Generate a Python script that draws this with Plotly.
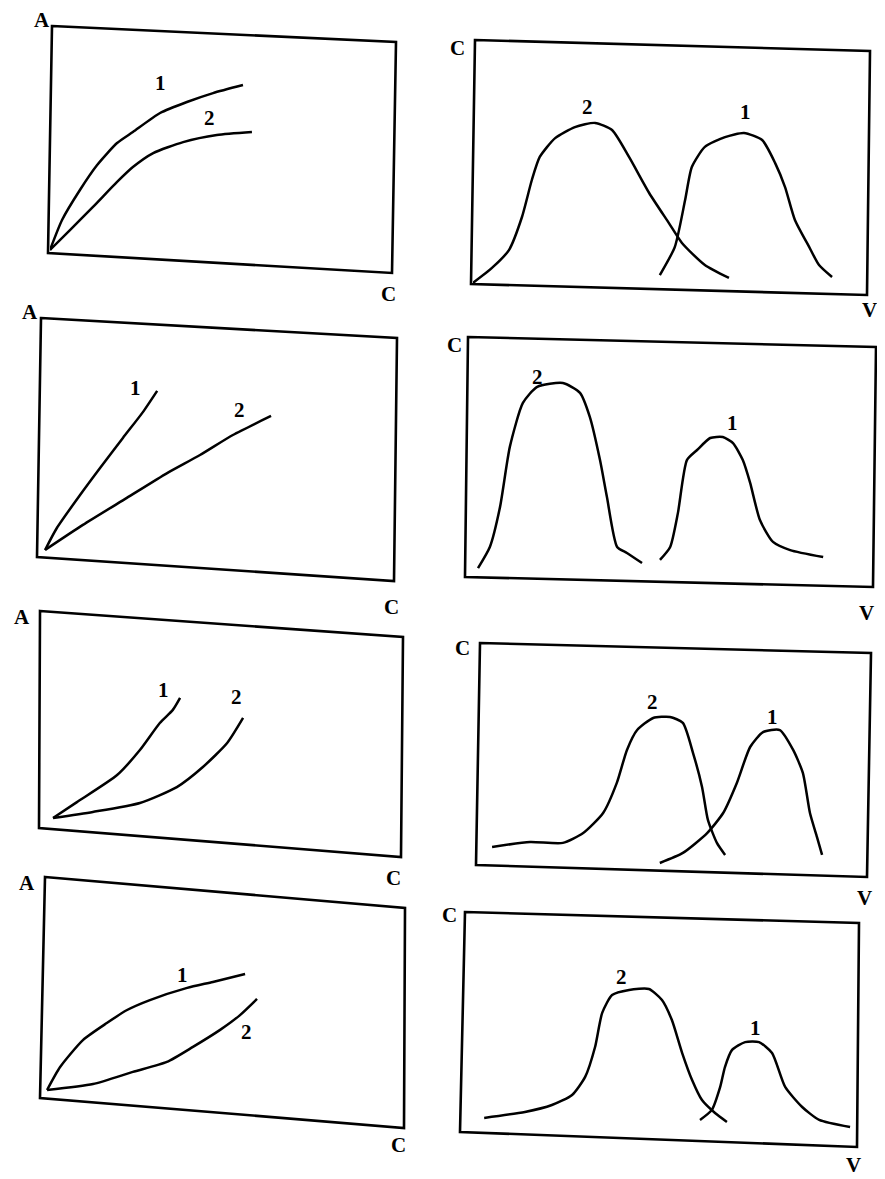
import plotly.graph_objects as go

# Four pairs of panels: left = isotherms A(C), right = elution profiles C(V)

# row 1
p1_x1 = [0, 3.5, 8.7, 13.7, 19.5, 24.1, 32.0, 39.8, 47.4, 56.1]
p1_y1 = [5.7, 18.8, 31.9, 42.8, 52.4, 57.2, 65.5, 70.3, 74.2, 77.7]
p1_x2 = [0, 5.8, 12.5, 19.5, 24.1, 30.0, 38.7, 48.5, 58.7]
p1_y2 = [5.7, 14.4, 24.5, 35.4, 41.9, 48.0, 52.8, 55.9, 57.2]

p2_x1 = [47.3, 51.1, 53.7, 55.4, 58.7, 63.8, 68.6, 73.2, 76.5, 79.0, 81.5, 85.1, 87.6, 90.9]
p2_y1 = [6.1, 17.6, 36.7, 50.2, 58.4, 62.4, 64.1, 61.2, 51.8, 42.0, 28.6, 17.6, 10.2, 5.3]
p2_x2 = [0, 4.8, 9.1, 12.4, 14.9, 16.9, 20.8, 25.8, 30.9, 35.2, 39.5, 44.6, 49.6, 52.9, 58.7, 64.8]
p2_y2 = [2.9, 9.0, 16.3, 29.8, 44.9, 54.3, 62.0, 66.5, 68.2, 65.3, 54.3, 39.6, 27.3, 19.2, 10.2, 4.9]

# row 2
p3_x1 = [1.7, 5.0, 11.5, 17.1, 23.5, 29.1, 33.1]
p3_y1 = [7.9, 17.0, 30.7, 41.9, 54.4, 65.1, 73.9]
p3_x2 = [1.7, 12.3, 24.6, 35.9, 45.1, 54.3, 65.0]
p3_y2 = [7.9, 18.3, 29.5, 39.8, 47.3, 55.6, 63.5]

p4_x1 = [47.3, 49.8, 51.7, 53.9, 56.4, 59.6, 62.7, 65.2, 67.6, 69.4, 71.8, 75.0, 79.2, 87.3]
p4_y1 = [9.2, 14.6, 28.8, 50.8, 55.0, 60.0, 60.4, 57.9, 50.8, 41.3, 25.8, 16.7, 13.3, 10.4]
p4_x2 = [2.7, 5.6, 8.1, 10.5, 13.7, 17.2, 23.5, 27.7, 30.1, 32.6, 34.3, 36.8, 39.2, 42.9]
p4_y2 = [5.8, 14.6, 31.3, 56.3, 74.6, 81.3, 82.9, 78.8, 68.8, 50.8, 35.4, 14.6, 12.1, 7.9]

# row 3
p5_x1 = [3.6, 10.2, 21.3, 27.6, 33.1, 36.7, 38.7]
p5_y1 = [11.0, 18.3, 30.7, 42.2, 54.6, 60.6, 66.1]
p5_x2 = [3.6, 14.6, 27.6, 37.8, 45.0, 51.7, 56.1]
p5_y2 = [11.0, 13.8, 17.9, 25.2, 34.4, 45.4, 56.9]

p6_x1 = [46.5, 52.4, 58.6, 62.7, 66.2, 69.6, 72.9, 77.2, 80.6, 83.1, 84.9, 86.7, 88.0]
p6_y1 = [3.6, 8.1, 17.0, 26.0, 39.5, 55.6, 62.3, 63.2, 54.3, 43.9, 26.0, 15.2, 7.2]
p6_x2 = [3.6, 13.3, 21.7, 26.9, 32.0, 35.5, 38.1, 40.7, 44.8, 49.1, 52.4, 55.0, 57.3, 58.8, 61.1, 63.2]
p6_y2 = [10.8, 13.0, 12.6, 17.0, 26.0, 39.5, 54.3, 63.2, 68.6, 69.1, 66.4, 52.9, 37.7, 22.9, 12.6, 7.2]

# row 4
p7_x1 = [1.4, 5.0, 11.3, 17.9, 23.5, 29.8, 40.1, 47.2, 56.1]
p7_y1 = [10.4, 20.8, 33.0, 40.7, 46.6, 51.1, 56.6, 59.3, 62.9]
p7_x2 = [1.4, 14.1, 25.1, 34.5, 41.7, 49.2, 54.7, 59.4]
p7_y2 = [10.4, 13.1, 18.6, 23.1, 29.9, 37.6, 44.3, 51.6]

p8_x1 = [60.1, 63.1, 65.2, 66.4, 68.2, 71.5, 75.0, 78.3, 81.6, 85.9, 90.2, 98.0]
p8_y1 = [9.0, 13.5, 23.8, 32.7, 40.4, 43.9, 43.9, 39.0, 23.8, 14.8, 9.0, 5.8]
p8_x2 = [5.6, 15.9, 22.7, 27.8, 31.1, 33.6, 35.4, 37.9, 42.2, 47.2, 50.5, 53.0, 55.6, 58.1, 60.6, 63.9, 66.9]
p8_y2 = [9.9, 12.6, 15.7, 20.2, 28.3, 41.7, 57.0, 65.0, 67.3, 67.7, 62.8, 53.8, 39.0, 26.9, 17.9, 12.1, 8.1]

# curve number labels (x, y) for "1" and "2"
lab1 = [(32, 78.6), (69.1, 72.7), (26.9, 75.1), (65, 66.3), (34, 69.7), (75.4, 69.1), (38.7, 62.4), (74, 50.2)]
lab2 = [(46.5, 63.3), (28.9, 74.7), (56.3, 66.0), (17.4, 85.5), (54.4, 66.5), (44.5, 75.8), (56.6, 36.7), (40.4, 73.1)]

curves = [
    (p1_x1, p1_y1, p1_x2, p1_y2), (p2_x1, p2_y1, p2_x2, p2_y2),
    (p3_x1, p3_y1, p3_x2, p3_y2), (p4_x1, p4_y1, p4_x2, p4_y2),
    (p5_x1, p5_y1, p5_x2, p5_y2), (p6_x1, p6_y1, p6_x2, p6_y2),
    (p7_x1, p7_y1, p7_x2, p7_y2), (p8_x1, p8_y1, p8_x2, p8_y2),
]

# --- layout (page pixels) ---
OFF = 8                  # browser body margin
W, H = 877, 1171

# frame corners (the scanned boxes are slightly tilted): TL, TR, BR, BL
corners = [
    [(52, 26), (396, 42), (392, 273), (48, 253)],
    [(475, 40), (870, 51), (867, 295), (471, 284)],
    [(41, 318), (397, 338), (394, 581), (37, 557)],
    [(468, 337), (876, 347), (873, 587), (465, 577)],
    [(40, 611), (403, 637), (401, 857), (39, 828)],
    [(480, 643), (871, 653), (867, 877), (476, 865)],
    [(45, 877), (405, 908), (404, 1128), (40, 1098)],
    [(465, 912), (859, 923), (857, 1147), (460, 1132)],
]
# plotting rectangle used for the data (l, r, t, b)
frames = [
    (50, 394, 34, 263), (473, 868, 45, 290),
    (39, 396, 328, 569), (467, 875, 342, 582),
    (40, 402, 624, 842), (478, 869, 648, 871),
    (42, 404, 892, 1113), (462, 858, 917, 1140),
]
# axis letters: (text, x, y) centres
ax_labels = [
    [("A", 42, 20), ("C", 388, 294)],
    [("C", 457, 48), ("V", 869, 310)],
    [("A", 30, 312), ("C", 391, 607)],
    [("C", 455, 345), ("V", 866, 613)],
    [("A", 22, 617), ("C", 393, 878)],
    [("C", 462, 648), ("V", 864, 898)],
    [("A", 27, 883), ("C", 398, 1145)],
    [("C", 450, 915), ("V", 853, 1165)],
]


def px(x):
    return (x - OFF) / W


def py(y):
    return 1 - (y - OFF) / H


FONT = "Liberation Serif"
fig = go.Figure()
line = dict(color="black", width=2.5, shape="spline", smoothing=0.6)

for i, (xa, ya, xb, yb) in enumerate(curves):
    n = "" if i == 0 else str(i + 1)
    fig.add_trace(go.Scatter(x=xa, y=ya, mode="lines", line=line,
                             xaxis="x" + n, yaxis="y" + n, showlegend=False, hoverinfo="skip"))
    fig.add_trace(go.Scatter(x=xb, y=yb, mode="lines", line=line,
                             xaxis="x" + n, yaxis="y" + n, showlegend=False, hoverinfo="skip"))

    l, r, t, b = frames[i]
    ax = dict(range=[0, 100], showgrid=False, zeroline=False, showticklabels=False,
              ticks="", showline=False, fixedrange=True)
    fig.layout["xaxis" + n] = dict(ax, domain=[px(l), px(r)], anchor="y" + n)
    fig.layout["yaxis" + n] = dict(ax, domain=[py(b), py(t)], anchor="x" + n)

    path = "M " + " L ".join(f"{px(cx):.5f},{py(cy):.5f}" for cx, cy in corners[i]) + " Z"
    fig.add_shape(type="path", path=path, xref="paper", yref="paper",
                  line=dict(color="black", width=2.6))

    num = dict(showarrow=False, font=dict(family=FONT, size=21, color="black"))
    fig.add_annotation(x=lab1[i][0], y=lab1[i][1], xref="x" + n, yref="y" + n,
                       text="<b>1</b>", **num)
    fig.add_annotation(x=lab2[i][0], y=lab2[i][1], xref="x" + n, yref="y" + n,
                       text="<b>2</b>", **num)

    for txt, tx, ty in ax_labels[i]:
        fig.add_annotation(x=px(tx), y=py(ty), xref="paper", yref="paper",
                           text=f"<b>{txt}</b>", showarrow=False,
                           xanchor="center", yanchor="middle",
                           font=dict(family=FONT, size=21, color="black"))

fig.update_layout(width=W, height=H, margin=dict(l=0, r=0, t=0, b=0),
                  paper_bgcolor="white", plot_bgcolor="white")

fig.write_html("out.html")
